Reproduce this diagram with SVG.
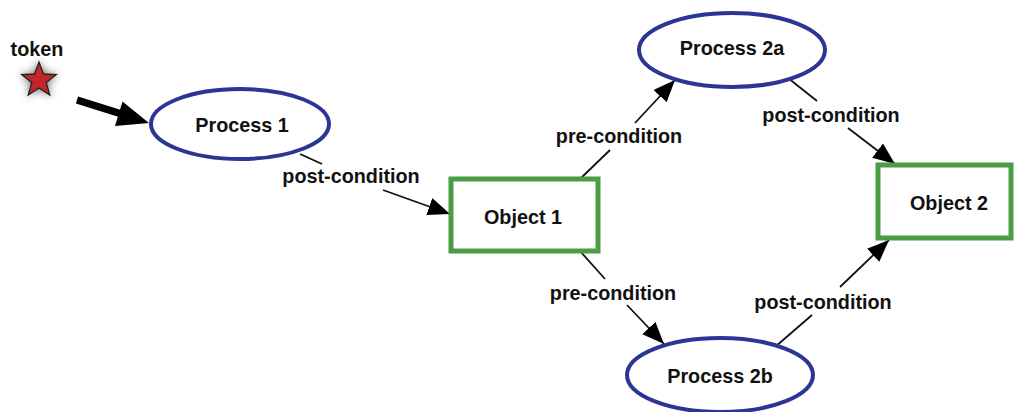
<svg xmlns="http://www.w3.org/2000/svg" width="1014" height="412" viewBox="0 0 1014 412">
<defs>
<style>
.proc{fill:#fff;stroke:#2b3593;stroke-width:4}
.obj{fill:#fff;stroke:#4a9d45;stroke-width:5}
.lbl{font-family:"Liberation Sans",Arial,sans-serif;font-weight:bold;font-size:19.8px;fill:#111;text-anchor:middle}
.edge{stroke:#111;stroke-width:1.8;fill:none}
</style>
<marker id="ah" markerUnits="userSpaceOnUse" markerWidth="24" markerHeight="20" refX="22" refY="9" orient="auto" viewBox="0 0 24 20">
<path d="M0,0 L22,9 L0,18 z" fill="#000"/>
</marker>
<filter id="sh" x="-100%" y="-100%" width="300%" height="300%">
<feGaussianBlur in="SourceAlpha" stdDeviation="4.5"/>
<feComponentTransfer><feFuncA type="linear" slope="0.6"/></feComponentTransfer>
<feMerge><feMergeNode/><feMergeNode in="SourceGraphic"/></feMerge>
</filter>
</defs>
<rect width="1014" height="412" fill="#fff"/>
<g id="token">
<text class="lbl" x="37" y="56">token</text>
<polygon filter="url(#sh)" fill="#c0282c" stroke="#222" stroke-width="1.3" points="39,62 43.5,74 56.3,74.6 46.3,82.6 49.8,95 39,88 28.2,95 31.7,82.6 21.7,74.6 34.5,74"/>
</g>
<g id="connectors">
<line x1="77" y1="100" x2="120" y2="113.5" stroke="#000" stroke-width="7.5"/>
<polygon points="149,123 115,126 122.5,101.5" fill="#000"/>
<line class="edge" x1="300" y1="154" x2="322" y2="164"/>
<line class="edge" x1="383" y1="190" x2="450" y2="214" marker-end="url(#ah)"/>
<line class="edge" x1="580" y1="179" x2="610" y2="150"/>
<line class="edge" x1="635" y1="123" x2="675" y2="80" marker-end="url(#ah)"/>
<line class="edge" x1="788" y1="78" x2="817" y2="101"/>
<line class="edge" x1="848" y1="128" x2="895" y2="164" marker-end="url(#ah)"/>
<line class="edge" x1="580" y1="251" x2="605" y2="279"/>
<line class="edge" x1="627" y1="305" x2="664" y2="344" marker-end="url(#ah)"/>
<line class="edge" x1="775" y1="347" x2="812" y2="315"/>
<line class="edge" x1="840" y1="287" x2="889" y2="240" marker-end="url(#ah)"/>
<text class="lbl" x="351" y="183">post-condition</text>
<text class="lbl" x="619" y="143">pre-condition</text>
<text class="lbl" x="831" y="122">post-condition</text>
<text class="lbl" x="613" y="300">pre-condition</text>
<text class="lbl" x="823" y="309">post-condition</text>
</g>
<g id="process1">
<ellipse class="proc" cx="240" cy="124" rx="89" ry="35"/>
<text class="lbl" x="242" y="132">Process 1</text>
</g>
<g id="object1">
<rect class="obj" x="451" y="179" width="147" height="72"/>
<text class="lbl" x="523" y="224">Object 1</text>
</g>
<g id="process2a">
<ellipse class="proc" cx="732" cy="50" rx="93" ry="37"/>
<text class="lbl" x="732" y="55">Process 2a</text>
</g>
<g id="process2b">
<ellipse class="proc" cx="720" cy="375" rx="93" ry="37"/>
<text class="lbl" x="720" y="383">Process 2b</text>
</g>
<g id="object2">
<rect class="obj" x="878" y="165" width="133" height="73"/>
<text class="lbl" x="949" y="210">Object 2</text>
</g>
</svg>
